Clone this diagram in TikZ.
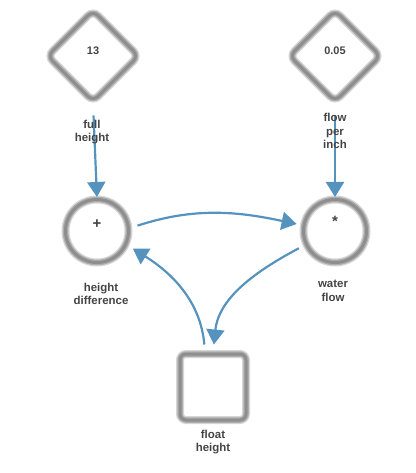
\documentclass[tikz,border=0pt]{standalone}
\usepackage{fontspec}
\setmainfont{Liberation Sans}
\usetikzlibrary{shapes.geometric,arrows.meta}
\definecolor{arrowblue}{HTML}{5593BE}
\definecolor{txtgray}{HTML}{444444}
\definecolor{blurA}{HTML}{D6D6D6}
\definecolor{blurB}{HTML}{ADADAD}
\definecolor{blurC}{HTML}{8E8E8E}
\tikzset{
  blurshape/.style={inner sep=0pt,
    preaction={fill=white},
    preaction={draw=blurA, line width=8bp},
    preaction={draw=blurB, line width=5.5bp},
    draw=blurC, line width=3bp},
  constbox/.style={blurshape, diamond, aspect=1, minimum width=92bp, minimum height=92bp, rounded corners=7bp},
  convbox/.style={blurshape, circle, minimum size=63bp},
  stockbox/.style={blurshape, rectangle, minimum width=66bp, minimum height=66bp, rounded corners=6bp},
  lbl/.style={align=center, text=txtgray, font=\fontsize{11.5}{13.5}\selectfont\bfseries, inner sep=0pt},
  inner/.style={text=txtgray, font=\fontsize{11}{12}\selectfont\bfseries},
  sym/.style={text=txtgray, font=\fontsize{15}{16}\selectfont\bfseries},
  flowarrow/.style={draw=arrowblue, line width=2.2bp, -{Triangle[length=15bp,width=18bp]}}
}
\begin{document}
\begin{tikzpicture}[x=1bp,y=-1bp]
\useasboundingbox (0,0) rectangle (415,473);
% shapes
\node[constbox, label={[inner, yshift=5bp]center:13}] (fullh) at (93,56) {};
\node[constbox, label={[inner, yshift=5bp]center:0.05}] (fpi) at (335,56) {};
\node[convbox, label={[sym, yshift=7bp]center:+}] (hd) at (97,231) {};
\node[convbox, label={[sym, yshift=10bp]center:*}] (wf) at (335,231) {};
\node[stockbox] (fh) at (213,387) {};
% connectors
\draw[flowarrow, shorten <=12bp, shorten >=1bp] (fullh.south) -- (hd.north);
\draw[flowarrow, shorten <=12bp, shorten >=1bp] (fpi.south) -- (wf.north);
\draw[flowarrow, shorten <=8bp, shorten >=6bp] (hd.5) to[out=18, in=168] (wf.170);
\draw[flowarrow, shorten <=7bp, shorten >=8bp] (wf.205) to[out=208, in=84] (fh.north);
\draw[flowarrow, shorten <=8bp, shorten >=7bp] (fh.103) to[out=95, in=-32] (hd.-25);
% labels
\node[lbl] (fullhl) at (92,132) {full\\height};
\node[lbl] (fpil) at (335,131) {flow\\per\\inch};
\node[lbl] (hdl) at (101,294) {height\\difference};
\node[lbl] (wfl) at (333,291) {water\\flow};
\node[lbl] (fhl) at (213,442) {float\\height};
\end{tikzpicture}
\end{document}
